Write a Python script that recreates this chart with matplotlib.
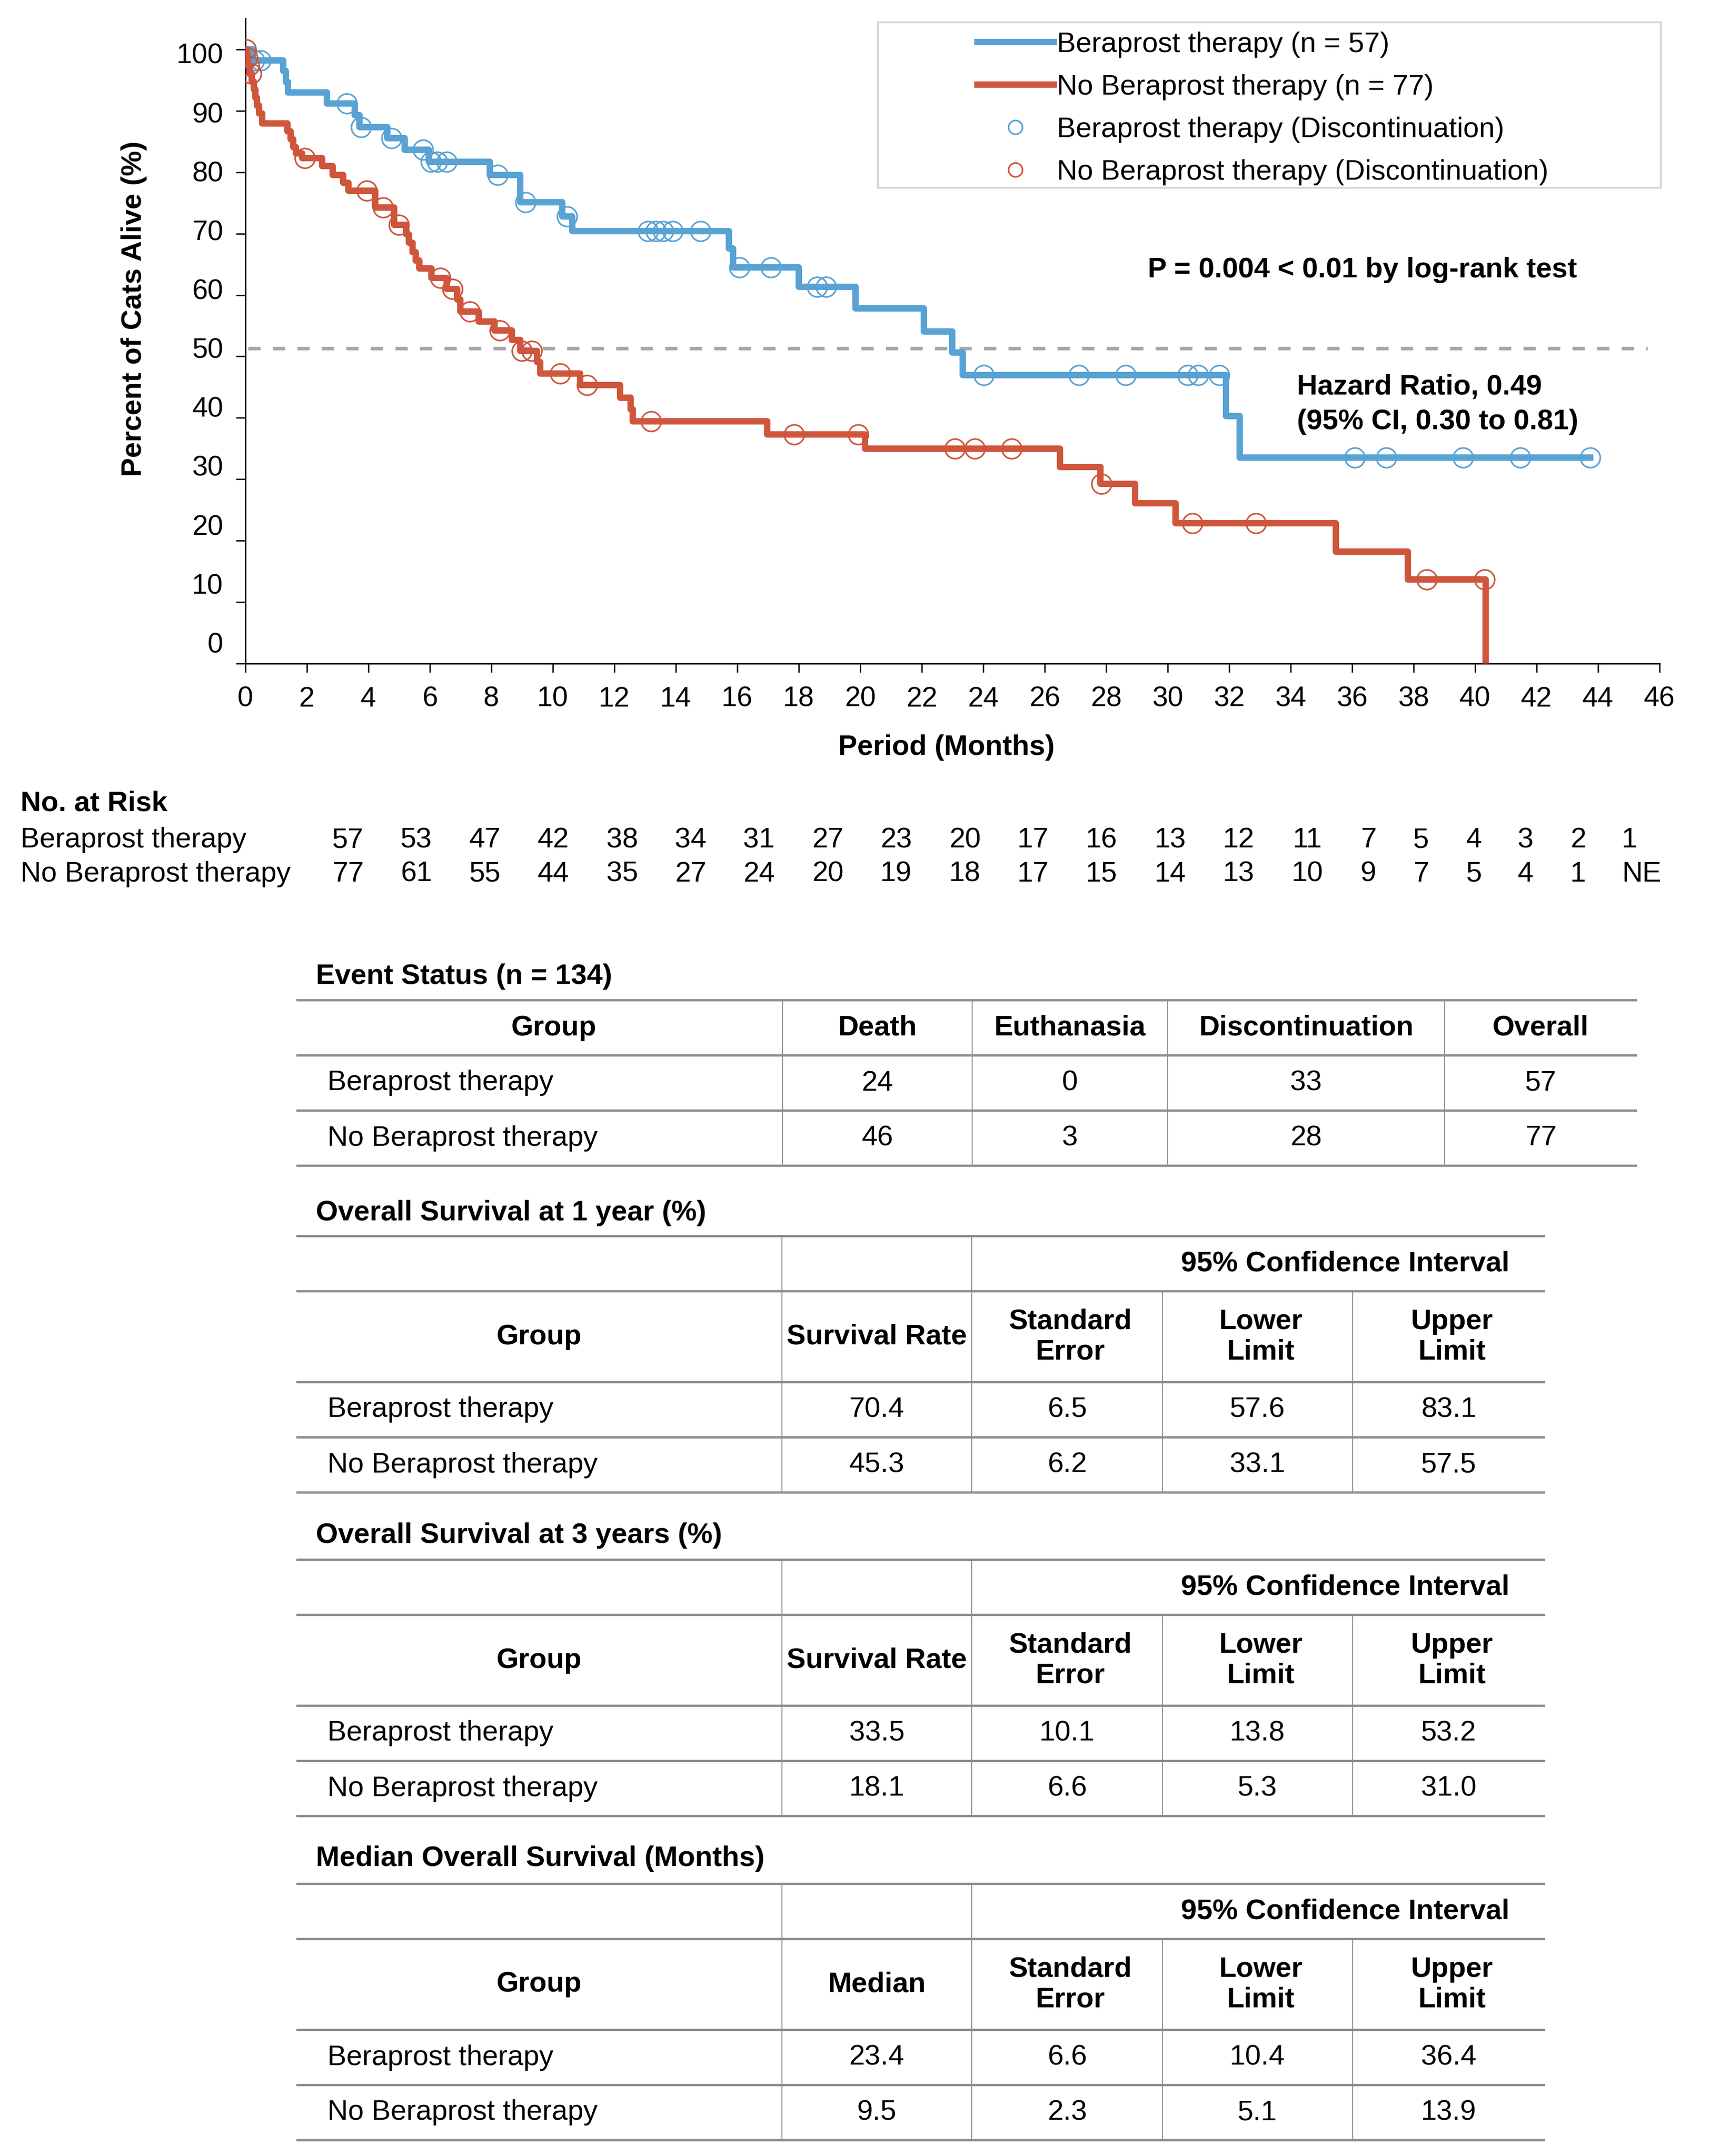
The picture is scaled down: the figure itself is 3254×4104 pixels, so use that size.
import numpy as np
import matplotlib
matplotlib.use('Agg')
import matplotlib.pyplot as plt
from matplotlib.lines import Line2D
from matplotlib.patches import Rectangle

plt.rcParams['font.family'] = ['Liberation Sans', 'DejaVu Sans']

W, H = 3255, 4104
BLUE = '#58A2D4'
RED = '#CF553B'
RULE = '#8C8C8C'

# --- Kaplan-Meier curves: time of each drop (months) and level after it (%)
bera_t = [0, 0.25, 1.23, 1.33, 1.39, 2.65, 3.56, 3.72, 4.62, 5.19, 5.98, 7.95, 8.95,
          10.31, 10.63, 15.73, 15.86, 18.0, 19.85, 22.08, 23.0, 23.33, 31.9, 32.35, 43.74]
bera_s = [100, 98.2, 96.5, 94.7, 93.0, 91.2, 89.3, 87.4, 85.6, 83.7, 81.7, 79.6, 75.1,
          72.8, 70.4, 67.6, 64.5, 61.3, 57.8, 54.1, 50.6, 47.0, 40.3, 33.5, 33.5]
bera_cens = [0.3, 0.5, 3.31, 3.76, 4.76, 5.78, 6.04, 6.24, 6.55, 8.21, 9.12, 10.46,
             13.1, 13.35, 13.6, 13.9, 14.8, 16.07, 17.1, 18.6, 18.9, 24.02, 27.12, 28.64,
             30.65, 31.0, 31.67, 36.09, 37.11, 39.6, 41.47, 43.74]

nobera_t = [0, 0.05, 0.1, 0.15, 0.22, 0.28, 0.33, 0.38, 0.45, 0.55, 1.37, 1.47, 1.56,
            1.65, 1.85, 2.51, 2.85, 3.19, 3.35, 4.22, 4.84, 5.24, 5.33, 5.45, 5.55, 5.66,
            6.06, 6.55, 6.9, 7.0, 7.6, 8.1, 8.67, 8.95, 9.5, 9.6, 10.9, 12.2, 12.53, 12.6,
            16.98, 20.15, 26.5, 27.82, 28.95, 30.26, 35.48, 37.82, 40.35]
nobera_s = [100, 98.7, 97.4, 96.1, 94.8, 93.5, 92.2, 90.9, 89.6, 88.0, 86.7, 85.4, 84.1,
            83.1, 82.3, 81.0, 79.6, 78.3, 77.0, 74.3, 71.4, 69.9, 68.5, 67.0, 65.6, 64.3,
            62.8, 61.0, 59.3, 57.3, 55.7, 54.2, 52.7, 50.9, 49.1, 47.2, 45.3, 43.3, 41.4, 39.4,
            37.3, 35.0, 32.0, 29.2, 26.1, 22.8, 18.2, 13.7, 0]
nobera_cens = [0.02, 0.08, 0.12, 0.2, 1.94, 3.95, 4.49, 5.0, 6.35, 6.74, 7.3, 8.28, 9.0,
               9.32, 10.24, 11.12, 13.2, 17.85, 19.93, 23.08, 23.73, 24.93, 27.85, 30.8,
               32.87, 38.43, 40.3]

median_line = 51.3

# --- number at risk
risk_bera = ['57', '53', '47', '42', '38', '34', '31', '27', '23', '20', '17', '16', '13',
             '12', '11', '7', '5', '4', '3', '2', '1']
risk_nobera = ['77', '61', '55', '44', '35', '27', '24', '20', '19', '18', '17', '15', '14',
               '13', '10', '9', '7', '5', '4', '1', 'NE']

# --- tables
groups = ['Beraprost therapy', 'No Beraprost therapy']
event_cols = ['Group', 'Death', 'Euthanasia', 'Discontinuation', 'Overall']
event_vals = [[24, 0, 33, 57], [46, 3, 28, 77]]
os1_vals = [[70.4, 6.5, 57.6, 83.1], [45.3, 6.2, 33.1, 57.5]]
os3_vals = [[33.5, 10.1, 13.8, 53.2], [18.1, 6.6, 5.3, 31.0]]
med_vals = [[23.4, 6.6, 10.4, 36.4], [9.5, 2.3, 5.1, 13.9]]


def level_at(ts, ss, c):
    idx = np.searchsorted(ts, c, side='right') - 1
    return np.asarray(ss)[idx]


fig = plt.figure(figsize=(W / 100, H / 100), dpi=100)
ov = fig.add_axes([0, 0, 1, 1])
ov.set_xlim(0, W)
ov.set_ylim(H, 0)
ov.axis('off')

x0, x1, yb, yt = 466.6, 3158, 1262.6, 34.8
ax = fig.add_axes([x0 / W, 1 - yb / H, (x1 - x0) / W, (yb - yt) / H])
ax.patch.set_visible(False)

ax.axhline(median_line, xmin=0.1 / 46, xmax=45.6 / 46, color='#A6A6A6', lw=4.8,
           dashes=(3.5, 3.5), zorder=1)

ax.plot(bera_t, bera_s, drawstyle='steps-post', color=BLUE, lw=8.8, zorder=3)
ax.plot(bera_cens, level_at(bera_t, bera_s, bera_cens), ls='none', marker='o',
        ms=27, mfc='none', mec=BLUE, mew=2.2, zorder=4)
ax.plot(nobera_t, nobera_s, drawstyle='steps-post', color=RED, lw=8.8, zorder=5)
ax.plot(nobera_cens, level_at(nobera_t, nobera_s, nobera_cens), ls='none', marker='o',
        ms=27, mfc='none', mec=RED, mew=2.2, zorder=6)

ax.set_xlim(0, 46)
ax.set_ylim(0, 105.1)
for side in ['top', 'right']:
    ax.spines[side].set_visible(False)
for side in ['left', 'bottom']:
    ax.spines[side].set_linewidth(2)

ax.set_xticks(np.arange(0, 47, 2))
ax.tick_params(axis='x', length=12, width=1.8, labelsize=38.5, pad=19)
ax.set_yticks(np.arange(0, 101, 10), labels=[''] * 11)
ax.tick_params(axis='y', which='major', length=13, width=1.8)
ylab = np.arange(0, 101, 10)
ax.set_yticks(3.4 + 0.96 * ylab, labels=[str(v) for v in ylab], minor=True)
ax.tick_params(axis='y', which='minor', length=0, labelsize=38.5, pad=30)

ax.set_xlabel('Period (Months)', fontsize=39, fontweight='bold', va='center')
ax.xaxis.set_label_coords(0.4958, -0.1306)
ax.set_ylabel('Percent of Cats Alive (%)', fontsize=39, fontweight='bold', va='center')
ax.yaxis.set_label_coords(-0.0786, 0.5494)

ax.text(29.36, 64.1, 'P = 0.004 < 0.01 by log-rank test', fontsize=39,
        fontweight='bold', va='center')
ax.text(34.2, 45.0, 'Hazard Ratio, 0.49', fontsize=39, fontweight='bold', va='center')
ax.text(34.2, 39.3, '(95% CI, 0.30 to 0.81)', fontsize=39, fontweight='bold', va='center')

handles = [Line2D([], [], color=BLUE, lw=8.8),
           Line2D([], [], color=RED, lw=8.8),
           Line2D([], [], ls='none', marker='o', ms=19, mfc='none', mec=BLUE, mew=2.2),
           Line2D([], [], ls='none', marker='o', ms=19, mfc='none', mec=RED, mew=2.2)]
labels = ['Beraprost therapy (n = 57)', 'No Beraprost therapy (n = 77)',
          'Beraprost therapy (Discontinuation)', 'No Beraprost therapy (Discontinuation)']
ax.legend(handles, labels, loc='upper left', bbox_to_anchor=(1860, 60),
          bbox_transform=ov.transData, frameon=False, fontsize=39, handlelength=2.67,
          handletextpad=0.12, labelspacing=0.57, borderpad=0, borderaxespad=0)
ov.add_patch(Rectangle((1670, 42), 3160 - 1670, 357 - 42, fill=False,
                       ec='#D4D4D4', lw=2.5))

# --- number at risk
risk_x = [662, 792, 923, 1053, 1184, 1314, 1444, 1575, 1705, 1836, 1966, 2096, 2227,
          2357, 2488, 2604, 2704, 2805, 2903, 3003, 3101]
ov.text(39, 1530, 'No. at Risk', fontsize=39, fontweight='bold', va='center')
ov.text(39, 1599, groups[0], fontsize=39, va='center')
ov.text(39, 1664, groups[1], fontsize=39, va='center')
for i, x in enumerate(risk_x):
    ov.text(x, 1599, risk_bera[i], fontsize=39, ha='center', va='center')
    xr = 3124 if risk_nobera[i] == 'NE' else x
    ov.text(xr, 1664, risk_nobera[i], fontsize=39, ha='center', va='center')


def hline(y, xl, xr):
    ov.plot([xl, xr], [y, y], color=RULE, lw=3.2, solid_capstyle='butt')


def vline(x, ya, yb_):
    ov.plot([x, x], [ya, yb_], color=RULE, lw=1.3, solid_capstyle='butt')


# event status table
tl, tr = 564, 3115
ecols = [564, 1489, 1850, 2222, 2749, 3115]
lines = [1904, 2009, 2114, 2219]
ov.text(601, 1859, 'Event Status (n = 134)', fontsize=39, fontweight='bold', va='center')
for y in lines:
    hline(y, tl, tr)
for x in ecols[1:-1]:
    vline(x, lines[0], lines[-1])
for j, name in enumerate(event_cols):
    cx = 1054 if j == 0 else (ecols[j] + ecols[j + 1]) / 2
    ov.text(cx, (lines[0] + lines[1]) / 2, name, fontsize=39, fontweight='bold',
            ha='center', va='center')
for i, g in enumerate(groups):
    cy = (lines[i + 1] + lines[i + 2]) / 2
    ov.text(623, cy, g, fontsize=39, va='center')
    for j, v in enumerate(event_vals[i]):
        ov.text((ecols[j + 1] + ecols[j + 2]) / 2, cy, str(v), fontsize=39,
                ha='center', va='center')


def ci_table(title, first_col, vals, ytitle, L0):
    xl, xr = 564, 2940
    cols = [564, 1488, 1849, 2212, 2574, 2940]
    L = [L0, L0 + 105, L0 + 278, L0 + 383, L0 + 488]
    ov.text(601, ytitle, title, fontsize=39, fontweight='bold', va='center')
    for y in L:
        hline(y, xl, xr)
    for x in cols[1:3]:
        vline(x, L[0], L[-1])
    for x in cols[3:5]:
        vline(x, L[1], L[-1])
    ov.text(2560, (L[0] + L[1]) / 2, '95% Confidence Interval', fontsize=39,
            fontweight='bold', ha='center', va='center')
    heads = ['Group', first_col, 'Standard\nError', 'Lower\nLimit', 'Upper\nLimit']
    hy = (L[1] + L[2]) / 2
    for j, h in enumerate(heads):
        ov.text((cols[j] + cols[j + 1]) / 2 + (0 if j < 2 else 6), hy, h, fontsize=39,
                fontweight='bold', ha='center', va='center', linespacing=1.2)
    for i, g in enumerate(groups):
        cy = (L[i + 2] + L[i + 3]) / 2
        ov.text(623, cy, g, fontsize=39, va='center')
        for j, v in enumerate(vals[i]):
            ov.text((cols[j + 1] + cols[j + 2]) / 2, cy, f'{v:.1f}', fontsize=39,
                    ha='center', va='center')


ci_table('Overall Survival at 1 year (%)', 'Survival Rate', os1_vals, 2309, 2353)
ci_table('Overall Survival at 3 years (%)', 'Survival Rate', os3_vals, 2923, 2969)
ci_table('Median Overall Survival (Months)', 'Median', med_vals, 3538, 3586)

fig.savefig('out.png', dpi=100)
